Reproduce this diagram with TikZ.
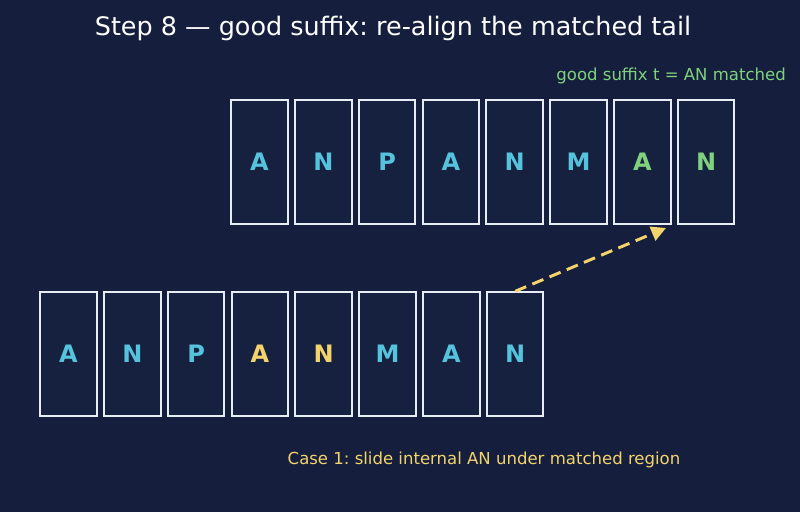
\documentclass[tikz,border=0pt]{standalone}
\usepackage{fontspec}
\setmainfont{DejaVu Sans}
\usetikzlibrary{arrows.meta}
\frenchspacing
\definecolor{bg}{HTML}{151F3D}
\definecolor{boxfill}{HTML}{16203F}
\definecolor{edge}{HTML}{E6EDF5}
\definecolor{cyanL}{HTML}{56C3DC}
\definecolor{greenL}{HTML}{7FD17E}
\definecolor{yellowL}{HTML}{F3D36C}
\tikzset{
  cell/.style={draw=edge, line width=1.5pt, fill=boxfill, minimum width=42.5pt, minimum height=92.5pt, inner sep=0pt, font=\bfseries\fontsize{18}{20}\selectfont},
  lab/.style={inner sep=0pt, font=\fontsize{12.4}{14}\selectfont},
}
\begin{document}
\begin{tikzpicture}[x=0.75pt,y=-0.75pt]
\fill[bg] (0,0) rectangle (800,512);
\useasboundingbox (0,0) rectangle (800,512);
\node[inner sep=0pt, text=white, font=\fontsize{19.1}{21}\selectfont] (title) at (393,28) {Step 8 — good suffix: re-align the matched tail};
\node[lab, text=greenL, anchor=east] (gs) at (786,76) {good suffix t = AN matched};
% top row
\foreach \c/\col [count=\i from 0] in {A/cyanL,N/cyanL,P/cyanL,A/cyanL,N/cyanL,M/cyanL,A/greenL,N/greenL}{
  \node[cell, text=\col] (t\i) at (259.5+\i*63.8,162) {\c};
}
% bottom row
\foreach \c/\col [count=\i from 0] in {A/cyanL,N/cyanL,P/cyanL,A/yellowL,N/yellowL,M/cyanL,A/cyanL,N/cyanL}{
  \node[cell, text=\col] (b\i) at (68.5+\i*63.8,354) {\c};
}
\coordinate (tgt) at (666,228);
\draw[yellowL, line width=2.2pt, dash pattern=on 9pt off 5pt, -{Triangle[length=11pt,width=11pt]}] (b7.north) -- (tgt);
\node[lab, text=yellowL] (case) at (484,460) {Case 1: slide internal AN under matched region};
\end{tikzpicture}
\end{document}
